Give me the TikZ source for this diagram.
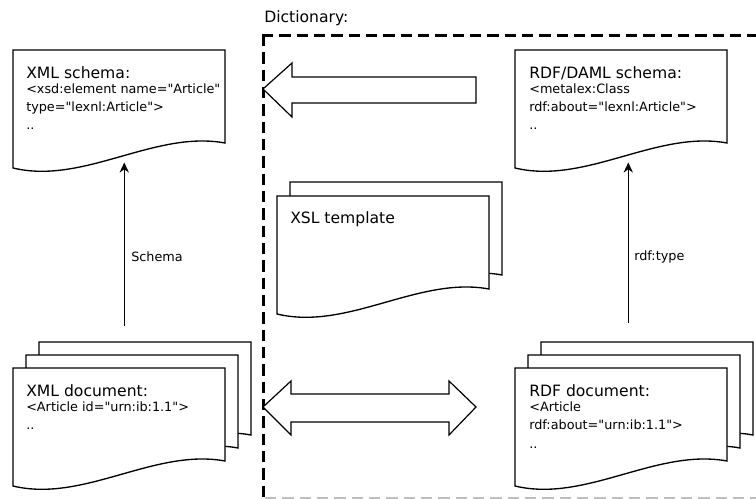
\documentclass[tikz,border=0pt]{standalone}
\usepackage{fontspec}
\newfontfamily\dvs{DejaVu Sans}
\usetikzlibrary{arrows.meta,calc}
\newcommand\ttlfont{\dvs\fontsize{11.7pt}{13.8pt}\selectfont}
\newcommand\smlfont{\dvs\fontsize{9.6pt}{13.8pt}\selectfont}
\tikzset{
  page/.style={draw=black, fill=white, line width=1pt, line join=miter},
  pagebox/.style={draw=none, inner sep=0pt, minimum width=159pt, minimum height=69.75pt, anchor=north west},
  tl/.style={anchor=base west, inner sep=0pt, font=\ttlfont},
  sl/.style={anchor=base west, inner sep=0pt, font=\smlfont},
  lbl/.style={anchor=west, inner sep=0pt, font=\smlfont},
  conn/.style={draw=black, line width=1pt, -{Stealth[length=7.5pt,width=7pt]}},
  blockarrow/.style={draw=black, fill=white, line width=0.9pt, line join=miter},
  dict/.style={draw=black, line width=2.25pt, dash pattern=on 8.5pt off 4.5pt}
}
\newcommand\docpage[3]{%
  \path[page] (#2,#3) -- (#2+212,#3) -- (#2+212,#3+93)
     .. controls (#2+141.3,#3+80) and (#2+70.7,#3+135) .. (#2,#3+118) -- cycle;
  \node[pagebox] (#1) at (#2,#3) {};
}
\begin{document}
\begin{tikzpicture}[x=0.75pt,y=-0.75pt]
\useasboundingbox (0,0) rectangle (756,499);
\clip (0,0) rectangle (756,499);

% dictionary frame
\draw[dict] (261.9,36) -- (760,36);
\draw[dict] (263,34.9) -- (263,505);
\draw[draw=black!25, line width=0.8pt, dash pattern=on 8.5pt off 4.5pt] (265,498) -- (760,498);
\node[tl] (dictlbl) at (264,23) {Dictionary:};

% block arrows
\draw[blockarrow] (263,89) -- (292,63) -- (292,77) -- (476,77) -- (476,103) -- (292,103) -- (292,117) -- cycle;
\draw[blockarrow] (263,407) -- (291,381) -- (291,394) -- (449,394) -- (449,381) -- (476,407)
   -- (449,435) -- (449,422) -- (291,422) -- (291,435) -- cycle;

% XML schema
\docpage{xmls}{13}{50}
\node[tl] (xmlsA) at (26,78.3) {XML schema:};
\node[sl] (xmlsB) at (26,93.3) {<xsd:element name="Article"};
\node[sl] (xmlsC) at (26,111.7) {type="lexnl:Article">};
\node[sl] (xmlsD) at (26,130) {..};

% RDF/DAML schema
\docpage{rdfs}{515}{50}
\node[tl] (rdfsA) at (529,78.3) {RDF/DAML schema:};
\node[sl] (rdfsB) at (529,93.3) {<metalex:Class};
\node[sl] (rdfsC) at (529,111.7) {rdf:about="lexnl:Article">};
\node[sl] (rdfsD) at (529,130) {..};

% XSL template
\docpage{xslback}{290}{182}
\docpage{xsl}{277}{196}
\node[tl] (xslA) at (290,223) {XSL template};

% XML documents
\docpage{xmlback}{39}{342}
\docpage{xmlmid}{26}{355}
\docpage{xmldoc}{13}{368}
\node[tl] (xmldA) at (26,396.3) {XML document:};
\node[sl] (xmldB) at (26,411.3) {<Article id="urn:ib:1.1">};
\node[sl] (xmldC) at (26,429.7) {..};

% RDF documents
\docpage{rdfback}{541}{342}
\docpage{rdfmid}{528}{355}
\docpage{rdfdoc}{515}{368}
\node[tl] (rdfdA) at (529,396.3) {RDF document:};
\node[sl] (rdfdB) at (529,411.3) {<Article};
\node[sl] (rdfdC) at (529,429.7) {rdf:about="urn:ib:1.1">};
\node[sl] (rdfdD) at (529,448) {..};

% connectors
\draw[conn] ($(xmlback.north)+(-21,-16)$) -- ($(xmls.south)+(5,19)$);
\draw[conn] ($(rdfback.north)+(-19,-19)$) -- ($(rdfs.south)+(7,19)$);
\node[lbl] (schemalbl) at (131,257) {Schema};
\node[lbl] (rdftypelbl) at (634,257) {rdf:type};
\end{tikzpicture}
\end{document}
